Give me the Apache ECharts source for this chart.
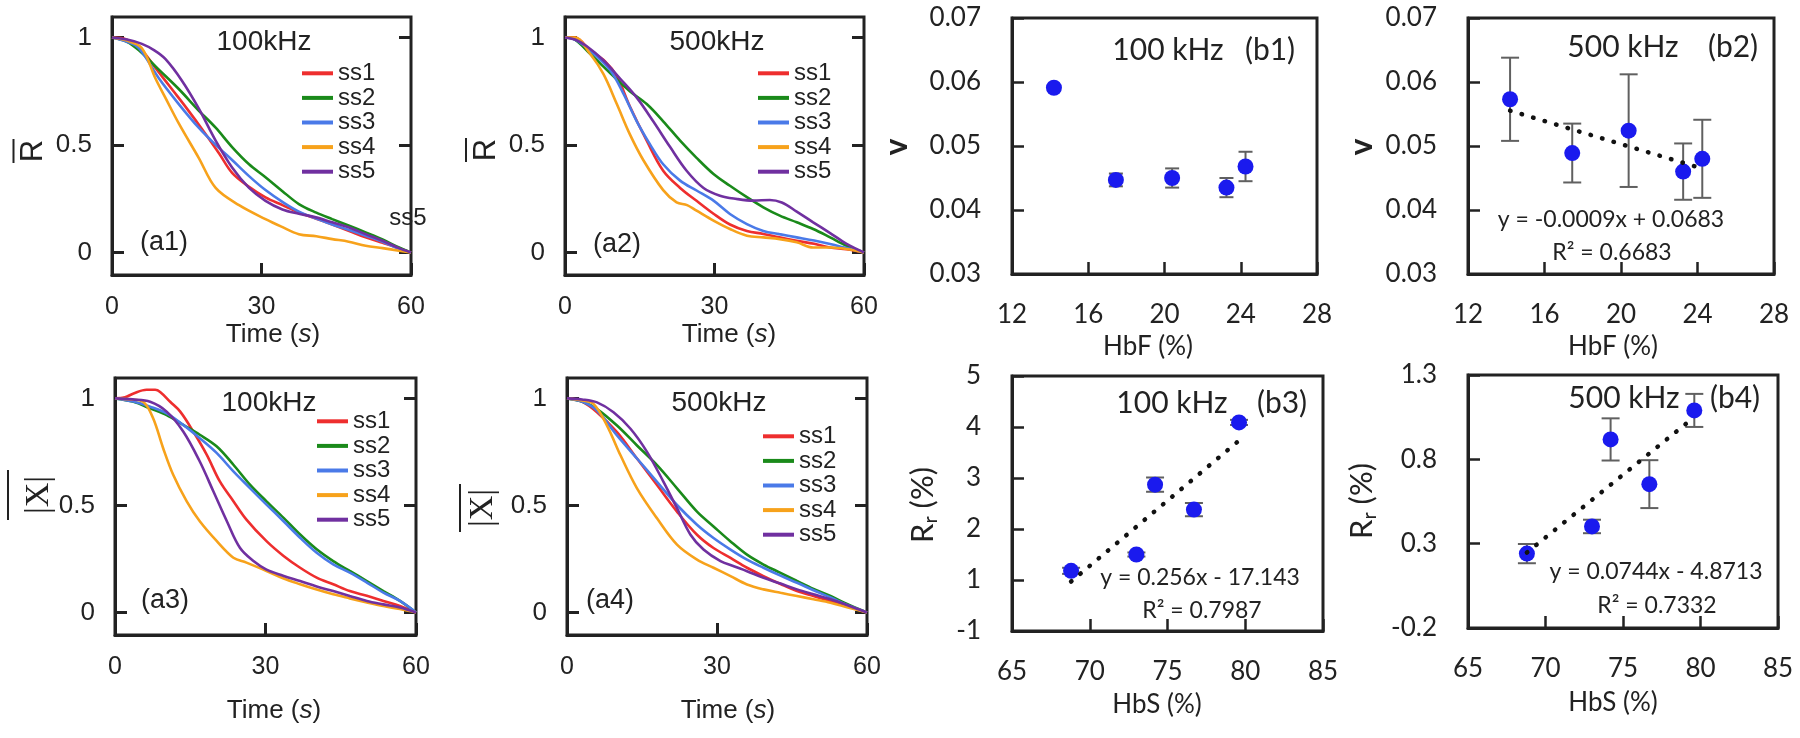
<!DOCTYPE html>
<html><head><meta charset="utf-8">
<script src="https://cdn.jsdelivr.net/npm/echarts@6/dist/echarts.min.js"></script>
<style>html,body{margin:0;padding:0;background:#fff}#c{width:1800px;height:738px}</style>
</head><body><div id="c"></div><script>
// ---------- data ----------
const seriesNames = ['ss1','ss2','ss3','ss4','ss5'];
const seriesColors = ['#ee2e2e','#1a8a1a','#4a7ae8','#f7a21b','#7030a0'];
const normTicks = [0, 0.5, 1];

// (a1) R-bar, 100 kHz
const a1_ss1 = [[0,1],[3,0.99],[6,0.94],[9,0.85],[12,0.76],[15,0.67],[18.8,0.55],[21.5,0.46],[24.1,0.37],[27.5,0.305],[30.8,0.256],[34.2,0.22],[37.5,0.186],[41,0.157],[44.2,0.13],[47.6,0.1],[50.9,0.07],[54.3,0.045],[57.6,0.02],[60,0]];
const a1_ss2 = [[0,1],[3,0.98],[5.4,0.94],[9.4,0.85],[13.4,0.76],[17.4,0.66],[20.8,0.58],[24.1,0.49],[27.5,0.41],[30.8,0.35],[34.2,0.285],[37.5,0.225],[41,0.185],[44.2,0.155],[47.6,0.124],[50.9,0.093],[54.3,0.06],[57.6,0.023],[60,0]];
const a1_ss3 = [[0,1],[3,0.98],[5.4,0.95],[9.4,0.81],[13.4,0.69],[17.4,0.58],[20.8,0.5],[24.1,0.43],[27.5,0.355],[30.8,0.29],[34.2,0.235],[37.5,0.19],[41,0.158],[44.2,0.13],[47.6,0.104],[50.9,0.078],[54.3,0.05],[57.6,0.016],[60,0]];
const a1_ss4 = [[0,1],[3,0.985],[6,0.95],[8.7,0.81],[10.7,0.72],[13.4,0.6],[17.4,0.44],[20.8,0.3],[25.5,0.22],[30.8,0.155],[34,0.12],[37.5,0.085],[41,0.075],[44.2,0.062],[47.5,0.05],[50.9,0.031],[54.3,0.02],[57.6,0.008],[60,0]];
const a1_ss5 = [[0,1],[3,0.99],[6,0.97],[8.5,0.94],[10.7,0.9],[14,0.8],[17.4,0.67],[20.8,0.52],[24.1,0.395],[27.5,0.3],[30.8,0.24],[34.2,0.2],[37.5,0.18],[40.9,0.163],[44.2,0.14],[47.6,0.116],[50.9,0.085],[54.3,0.054],[57.6,0.02],[60,0]];

// (a2) R-bar, 500 kHz
const a2_ss1 = [[0,1],[2,1],[5,0.94],[8,0.89],[10.4,0.82],[13,0.68],[16.4,0.52],[19.7,0.38],[23.1,0.3],[26.4,0.24],[29.8,0.18],[33.1,0.13],[36.5,0.1],[39.8,0.086],[43,0.07],[46.5,0.054],[50,0.04],[53.2,0.023],[56.5,0.015],[60,0]];
const a2_ss2 = [[0,1],[2,0.99],[5,0.925],[9.7,0.82],[13,0.75],[16.4,0.69],[19.7,0.61],[23.1,0.52],[26.4,0.44],[29.8,0.365],[33.1,0.31],[36.5,0.257],[39.8,0.21],[43.1,0.171],[46.5,0.14],[49.8,0.109],[53.2,0.07],[56.5,0.031],[60,0]];
const a2_ss3 = [[0,1],[2,0.99],[5,0.94],[9,0.85],[11.7,0.74],[14.4,0.61],[17,0.505],[19.7,0.41],[23.1,0.334],[26.4,0.288],[29.8,0.241],[33.1,0.179],[36.5,0.132],[39.8,0.1],[43,0.085],[46.5,0.07],[50,0.055],[53.2,0.039],[56.5,0.02],[60,0]];
const a2_ss4 = [[0,1],[2,1],[5,0.925],[7.7,0.83],[10.4,0.69],[13,0.55],[15.7,0.43],[19.7,0.29],[22.4,0.233],[24.5,0.22],[26.4,0.194],[29.8,0.148],[33.1,0.109],[36.5,0.078],[39.8,0.07],[43.1,0.062],[46.5,0.047],[49.8,0.023],[53.2,0.023],[56.5,0.016],[60,0]];
const a2_ss5 = [[0,1],[2,0.99],[4.3,0.96],[7.7,0.894],[11,0.81],[14.4,0.72],[17.7,0.61],[21.1,0.49],[24.4,0.38],[27.8,0.3],[31.1,0.264],[34.4,0.249],[37.8,0.241],[41.1,0.244],[43.5,0.232],[46.5,0.19],[49.8,0.14],[53.2,0.09],[56.5,0.04],[60,0]];

// (a3) |X|-bar, 100 kHz
const a3_ss1 = [[0,1],[2,1.005],[3.7,1.023],[6.3,1.04],[8,1.04],[9,1.03],[11,0.984],[13,0.938],[15.6,0.845],[18.3,0.736],[20.9,0.612],[23.6,0.52],[26.2,0.434],[30.2,0.333],[33.6,0.264],[36.9,0.209],[40.2,0.163],[43.5,0.132],[46.8,0.1],[50.2,0.078],[53.5,0.054],[56.8,0.031],[60,0]];
const a3_ss2 = [[0,1],[3.7,0.984],[7,0.953],[10.3,0.922],[13.6,0.876],[16.9,0.83],[20.3,0.775],[23.6,0.69],[26.9,0.597],[30.2,0.519],[33.6,0.442],[36.9,0.364],[40.2,0.295],[43.5,0.24],[46.8,0.194],[50.2,0.147],[53.5,0.1],[56.8,0.054],[60,0]];
const a3_ss3 = [[0,1],[3.7,0.985],[7,0.961],[10.3,0.93],[13.6,0.876],[16.9,0.814],[20.3,0.744],[23.6,0.659],[26.9,0.581],[30.2,0.504],[33.6,0.426],[36.9,0.349],[40.2,0.279],[43.5,0.225],[46.8,0.186],[50.2,0.14],[53.5,0.093],[56.8,0.054],[60,0]];
const a3_ss4 = [[0,1],[3,0.995],[5.6,0.984],[7.6,0.907],[9.6,0.767],[11.6,0.643],[14.3,0.519],[16.9,0.426],[20.3,0.333],[23.6,0.256],[26.2,0.233],[30.2,0.194],[33.5,0.16],[36.9,0.132],[40.2,0.107],[43.5,0.085],[46.8,0.066],[50.2,0.047],[53.5,0.03],[56.8,0.016],[60,0]];
const a3_ss5 = [[0,1],[3.5,0.995],[7,0.984],[10.3,0.938],[13.6,0.845],[16.9,0.705],[19.6,0.566],[22.3,0.426],[24.9,0.302],[27.6,0.24],[30.2,0.2],[33.5,0.172],[36.9,0.147],[40.2,0.122],[43.5,0.1],[46.8,0.077],[50.2,0.054],[53.5,0.038],[56.8,0.023],[60,0]];

// (a4) |X|-bar, 500 kHz
const a4_ss1 = [[0,1],[3,0.985],[6,0.935],[10,0.842],[14,0.719],[18,0.595],[22,0.471],[26,0.363],[29.3,0.301],[32.7,0.255],[36,0.209],[39.3,0.17],[42.7,0.133],[46,0.1],[49.3,0.077],[52.7,0.054],[56,0.03],[60,0]];
const a4_ss2 = [[0,1],[3,0.985],[6,0.95],[10,0.873],[14,0.78],[18,0.688],[22,0.58],[26,0.471],[29.3,0.402],[32.7,0.332],[36,0.27],[39.3,0.224],[42.7,0.185],[46,0.147],[49.3,0.11],[52.7,0.077],[56,0.04],[60,0]];
const a4_ss3 = [[0,1],[3,0.985],[6,0.943],[10,0.827],[14,0.719],[18,0.61],[22,0.502],[26,0.41],[29.3,0.348],[32.7,0.294],[36,0.247],[39.3,0.209],[42.7,0.172],[46,0.139],[49.3,0.104],[52.7,0.07],[56,0.035],[60,0]];
const a4_ss4 = [[0,1],[3,0.99],[5.3,0.974],[8,0.873],[10.7,0.734],[14,0.58],[18,0.44],[22,0.317],[26,0.247],[29.3,0.209],[32.7,0.17],[36,0.131],[39.3,0.108],[42.7,0.092],[46,0.077],[49.3,0.062],[52.7,0.046],[56,0.025],[60,0]];
const a4_ss5 = [[0,1],[3,0.995],[6,0.981],[9.3,0.935],[12.7,0.858],[16,0.75],[19.3,0.61],[22,0.487],[24.7,0.363],[27.3,0.294],[30.7,0.24],[33.5,0.215],[36,0.193],[39.3,0.162],[42.7,0.135],[46,0.108],[49.3,0.085],[52.7,0.062],[56,0.035],[60,0]];

// (b) panels
const hbf = [14.2, 17.45, 20.4, 23.25, 24.25];
const hbs = [68.8, 73.0, 74.2, 76.7, 79.6];
const b1_v = [0.0591, 0.0447, 0.0450, 0.0435, 0.0468];
const b1_err = [0.0004, 0.0010, 0.0015, 0.0015, 0.0023];
const b2_v = [0.0573, 0.0489, 0.0524, 0.0460, 0.0480];
const b2_err = [0.0065, 0.0046, 0.0088, 0.0044, 0.0061];
const b3_rr = [0.68, 1.00, 2.37, 1.88, 3.59];
const b3_err = [0.06, 0.04, 0.14, 0.13, 0.05];
const b4_rr = [0.241, 0.402, 0.918, 0.653, 1.090];
const b4_err = [0.057, 0.040, 0.125, 0.142, 0.098];
const b2_fit = [-0.0009, 0.0683];
const b3_fit = [0.256, -17.143];
const b4_fit = [0.0744, -4.8713];
const b3_yTickLabels = ['-1','1','2','3','4','5'];

// ---------- layout ----------
const A_FONT = '"Liberation Sans", Arial, sans-serif';
const S_FONT = '"Liberation Serif", "Times New Roman", serif';
const B_FONT = 'Lato, "Open Sans", sans-serif';
const INK = '#222';

const grids = [
  {left:112, top:17, width:299, height:258},
  {left:565, top:17, width:299, height:258},
  {left:115, top:378, width:301, height:257},
  {left:567, top:378, width:300, height:257},
  {left:1012, top:18, width:305, height:256},
  {left:1468, top:18, width:306, height:256},
  {left:1012, top:376, width:311, height:255},
  {left:1468, top:375, width:310, height:253}
].map(g => Object.assign({show:true, borderColor:INK, borderWidth:3, backgroundColor:'transparent', containLabel:false}, g));

const tickStyle = {color:INK, width:3};
function aX(i){ return {type:'value', gridIndex:i, min:0, max:60, interval:30,
  axisLine:{show:true, onZero:false, lineStyle:tickStyle}, axisTick:{show:true, inside:true, length:12, lineStyle:tickStyle},
  axisLabel:{margin:20, fontSize:25, fontFamily:A_FONT, color:INK}, splitLine:{show:false}}; }
function aYL(i){ return {type:'value', gridIndex:i, position:'left', min:-0.105, max:1.095,
  axisLine:{show:true, onZero:false, lineStyle:tickStyle}, axisTick:{show:true, inside:true, length:12, lineStyle:tickStyle, customValues:normTicks},
  axisLabel:{customValues:normTicks, margin:20, fontSize:26, fontFamily:A_FONT, color:INK}, splitLine:{show:false}}; }
function aYR(i){ return {type:'value', gridIndex:i, position:'right', min:-0.105, max:1.095,
  axisLine:{show:false, onZero:false}, axisTick:{show:true, inside:true, length:12, lineStyle:tickStyle, customValues:normTicks},
  axisLabel:{show:false}, splitLine:{show:false}}; }
function bX(i, mn, mx, iv){ return {type:'value', gridIndex:i, min:mn, max:mx, interval:iv,
  axisLine:{show:true, onZero:false, lineStyle:{color:INK, width:3}}, axisTick:{show:true, inside:true, length:12, lineStyle:{color:INK, width:2.5}},
  axisLabel:{margin:28, fontSize:26, fontFamily:B_FONT, color:INK}, splitLine:{show:false}}; }
function bY(i, mn, mx, iv, fmt){ return {type:'value', gridIndex:i, min:mn, max:mx, interval:iv,
  axisLine:{show:true, onZero:false, lineStyle:{color:INK, width:3}}, axisTick:{show:true, inside:true, length:12, lineStyle:{color:INK, width:2.5}},
  axisLabel:{margin:31, fontSize:26, fontFamily:B_FONT, color:INK, formatter:fmt}, splitLine:{show:false}}; }

const xAxis = [aX(0), aX(1), aX(2), aX(3),
  bX(4, 12, 28, 4), bX(5, 12, 28, 4), bX(6, 65, 85, 5), bX(7, 65, 85, 5)];
const yAxis = [aYL(0), aYL(1), aYL(2), aYL(3), aYR(0), aYR(1), aYR(2), aYR(3),
  bY(4, 0.03, 0.07, 0.01, v => v.toFixed(2)),
  bY(5, 0.03, 0.07, 0.01, v => v.toFixed(2)),
  bY(6, -0.5, 4.5, 1, v => b3_yTickLabels[Math.round(v + 0.5)]),
  bY(7, -0.2, 1.3, 0.5, v => v.toFixed(1))];

// ---------- series ----------
const series = [];
const aSets = [
  [a1_ss1, a1_ss2, a1_ss3, a1_ss4, a1_ss5],
  [a2_ss1, a2_ss2, a2_ss3, a2_ss4, a2_ss5],
  [a3_ss1, a3_ss2, a3_ss3, a3_ss4, a3_ss5],
  [a4_ss1, a4_ss2, a4_ss3, a4_ss4, a4_ss5]
];
aSets.forEach((set, p) => set.forEach((d, k) => series.push({
  type:'line', name:seriesNames[k], xAxisIndex:p, yAxisIndex:p, data:d,
  symbol:'none', showSymbol:false, smooth:0.35, clip:true,
  lineStyle:{color:seriesColors[k], width:2.6}, itemStyle:{color:seriesColors[k]}
})));

function errSeries(p, xs, ys, es, half){
  return {type:'custom', xAxisIndex:p, yAxisIndex:p+4, z:2,
    data: xs.map((x, j) => [x, ys[j] - es[j], ys[j] + es[j]]),
    renderItem: (params, api) => {
      const top = api.coord([api.value(0), api.value(2)]);
      const bot = api.coord([api.value(0), api.value(1)]);
      const st = {stroke:'#606060', lineWidth:2};
      return {type:'group', children:[
        {type:'line', shape:{x1:top[0], y1:top[1], x2:bot[0], y2:bot[1]}, style:st},
        {type:'line', shape:{x1:top[0]-half, y1:top[1], x2:top[0]+half, y2:top[1]}, style:st},
        {type:'line', shape:{x1:bot[0]-half, y1:bot[1], x2:bot[0]+half, y2:bot[1]}, style:st}
      ]};
    }};
}
function dotSeries(p, xs, ys){
  return {type:'scatter', xAxisIndex:p, yAxisIndex:p+4, z:3, symbol:'circle', symbolSize:16,
    itemStyle:{color:'#1a1aee', opacity:1}, data: xs.map((x, j) => [x, ys[j]])};
}
function fitSeries(p, xs, fit){
  const x0 = Math.min(...xs), x1 = Math.max(...xs);
  return {type:'line', xAxisIndex:p, yAxisIndex:p+4, z:4, symbol:'none', showSymbol:false, silent:true,
    data:[[x0, fit[0]*x0 + fit[1]], [x1, fit[0]*x1 + fit[1]]],
    lineStyle:{color:'#111', width:4.5, type:[0.5, 11.5], cap:'round'}};
}
series.push(errSeries(4, hbf, b1_v, b1_err, 7), dotSeries(4, hbf, b1_v));
series.push(errSeries(5, hbf, b2_v, b2_err, 9), dotSeries(5, hbf, b2_v), fitSeries(5, hbf, b2_fit));
series.push(errSeries(6, hbs, b3_rr, b3_err, 9), dotSeries(6, hbs, b3_rr), fitSeries(6, hbs, b3_fit));
series.push(errSeries(7, hbs, b4_rr, b4_err, 9), dotSeries(7, hbs, b4_rr), fitSeries(7, hbs, b4_fit));

// ---------- legends ----------
function legend(left, top){
  return {show:true, orient:'vertical', left, top, padding:0, itemGap:0, itemWidth:31, itemHeight:4,
    icon:'rect', selectedMode:false, data:seriesNames,
    textStyle:{fontSize:24, fontFamily:A_FONT, color:INK, lineHeight:24.6}};
}
const legends = [legend(302, 61), legend(758, 61), legend(317, 409), legend(763, 424)];

// ---------- texts ----------
function T(x, y, text, size, family, extra){
  return {type:'text', x, y, silent:true, style:Object.assign({text, fontSize:size, fontFamily:family, fill:INK,
    align:'center', verticalAlign:'middle', textAlign:'center', textVerticalAlign:'middle'}, extra || {})};
}
function rotText(x, y, text, size, family, extra){
  return {type:'group', x, y, rotation:Math.PI/2, silent:true, children:[T(0, 0, text, size, family, extra)]};
}
function overText(x, y, text, size, family, off, half){
  return {type:'group', x, y, rotation:Math.PI/2, silent:true, children:[
    T(0, 0, text, size, family),
    {type:'line', shape:{x1:-half, y1:-off, x2:half, y2:-off}, style:{stroke:INK, lineWidth:2}}
  ]};
}
function timeLabel(x, y){
  return T(x, y, '{n|Time (}{i|s}{n|)}', 26, A_FONT, {rich:{
    n:{fontSize:26, fontFamily:A_FONT, fill:INK}, i:{fontSize:26, fontFamily:A_FONT, fontStyle:'italic', fill:INK}}});
}
function rrLabel(x, y){
  return rotText(x, y, '{a|R}{s|r}{a| (%)}', 31, B_FONT, {rich:{
    a:{fontSize:31, fontFamily:B_FONT, fill:INK, lineHeight:36},
    s:{fontSize:20, fontFamily:B_FONT, fill:INK, verticalAlign:'bottom'}}});
}

const graphics = [
  // a1
  T(264, 42, '100kHz', 28, A_FONT), T(164, 243, '(a1)', 27, A_FONT), timeLabel(273, 335),
  overText(33.5, 151, 'R', 31, A_FONT, 20, 12), T(408, 218, 'ss5', 24, A_FONT),
  // a2
  T(717, 42, '500kHz', 28, A_FONT), T(617, 245, '(a2)', 27, A_FONT), timeLabel(729, 335),
  overText(486, 150, 'R', 31, A_FONT, 20, 12),
  // a3
  T(269, 403, '100kHz', 28, A_FONT), T(165, 601, '(a3)', 27, A_FONT), timeLabel(274, 711),
  overText(39, 495, '|X|', 34, S_FONT, 31, 25),
  // a4
  T(719, 403, '500kHz', 28, A_FONT), T(610, 601, '(a4)', 27, A_FONT), timeLabel(728, 711),
  overText(483, 508, '|X|', 34, S_FONT, 23, 24),
  // b1
  T(1168, 50, '100 kHz', 30, B_FONT), T(1270, 50, '(b1)', 30, B_FONT), T(1148, 347, 'HbF (%)', 26, B_FONT),
  rotText(897, 147, 'v', 32, B_FONT, {fontWeight:'bold'}),
  // b2
  T(1623, 47, '500 kHz', 30, B_FONT), T(1733, 47, '(b2)', 30, B_FONT), T(1613, 347, 'HbF (%)', 26, B_FONT),
  rotText(1362, 147, 'v', 32, B_FONT, {fontWeight:'bold'}),
  T(1611, 220, 'y = -0.0009x + 0.0683', 23, B_FONT), T(1612, 253, 'R² = 0.6683', 23, B_FONT),
  // b3
  T(1172, 403, '100 kHz', 30, B_FONT), T(1282, 403, '(b3)', 30, B_FONT), T(1157, 705, 'HbS (%)', 26, B_FONT),
  rrLabel(923, 505),
  T(1200, 578, 'y = 0.256x - 17.143', 23, B_FONT), T(1202, 611, 'R² = 0.7987', 23, B_FONT),
  // b4
  T(1624, 398, '500 kHz', 30, B_FONT), T(1735, 398, '(b4)', 30, B_FONT), T(1613, 703, 'HbS (%)', 26, B_FONT),
  rrLabel(1362, 501),
  T(1656, 572, 'y = 0.0744x - 4.8713', 23, B_FONT), T(1657, 606, 'R² = 0.7332', 23, B_FONT)
];

const chart = echarts.init(document.getElementById('c'), null, {renderer:'canvas'});
chart.setOption({
  animation:false,
  backgroundColor:'#ffffff',
  textStyle:{fontFamily:A_FONT, color:INK},
  grid:grids, xAxis, yAxis, legend:legends, series,
  graphic:{elements:graphics}
});
</script></body></html>
